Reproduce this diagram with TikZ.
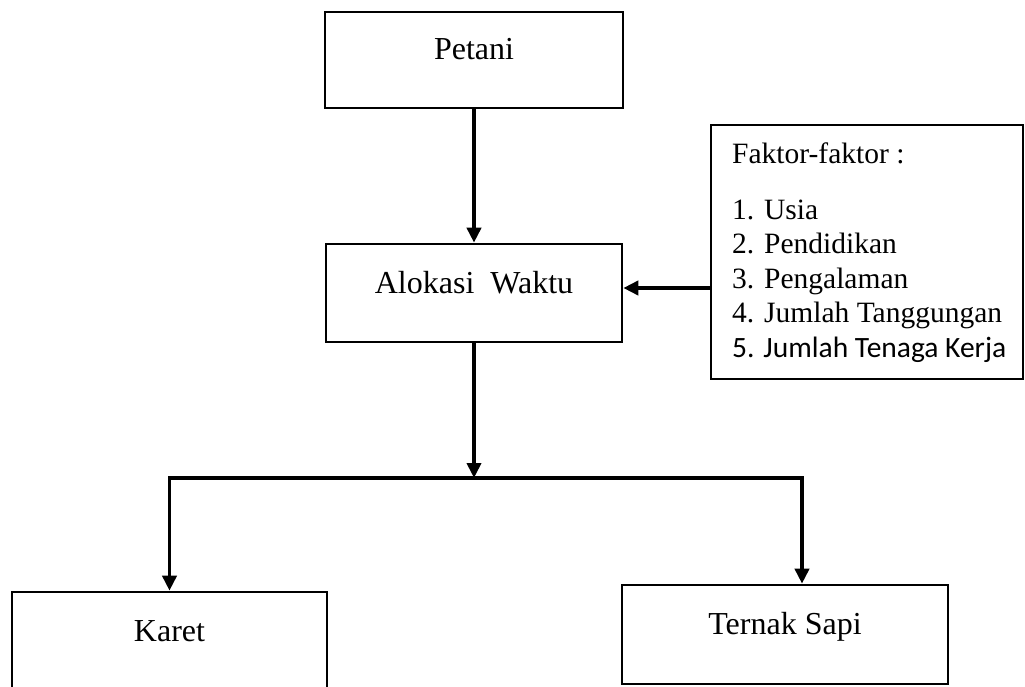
\documentclass[tikz,border=0pt]{standalone}
\usepackage{fontspec}
\setmainfont{Liberation Serif}
\newfontfamily\calibrifont{Carlito}
\usetikzlibrary{arrows.meta}
\begin{document}
\begin{tikzpicture}[x=1pt,y=-1pt,
  box/.style={draw, line width=2.6pt, inner sep=0pt, text height=22pt, text depth=22pt,
              font=\fontsize{32}{38}\selectfont},
  conn/.style={line width=3.8pt, -{Triangle[length=15pt,width=14pt]}},
  listtext/.style={anchor=north west, inner sep=0pt, align=left,
              font=\fontsize{29.5}{34.5}\selectfont}]
\useasboundingbox (0,0) rectangle (1025,687);
\clip (0,0) rectangle (1025,687);
% boxes
\node[box, minimum width=298pt, minimum height=96pt] (petani) at (474,60) {Petani};
\node[box, minimum width=296pt, minimum height=98pt] (alokasi) at (474,293) {Alokasi~~Waktu};
\node[box, minimum width=315pt, minimum height=98pt] (karet) at (169.5,641) {Karet};
\node[box, minimum width=326pt, minimum height=99pt] (ternak) at (785,634.5) {Ternak Sapi};
\node[box, minimum width=312pt, minimum height=254pt] (faktor) at (867,252) {};
\node[listtext] (faktortext) at (732,143) {Faktor-faktor :\\[21pt]
  1. Usia\\
  2. Pendidikan\\
  3. Pengalaman\\
  4. Jumlah Tanggungan\\
  {\calibrifont 5. Jumlah Tenaga Kerja}};
% connectors
\coordinate (busL) at (169.5,478);
\coordinate (busR) at (802,478);
\draw[conn] (petani.south) -- (alokasi.north);
\draw[conn] ([yshift=5pt]alokasi.east -| faktor.west) -- ([yshift=5pt]alokasi.east);
\draw[conn] (alokasi.south) -- (alokasi.south |- busL);
\draw[conn] (busR) -- (busL) -- (karet.north);
\draw[conn] (busL) -- (busR) -- (busR |- ternak.north);
\end{tikzpicture}
\end{document}
